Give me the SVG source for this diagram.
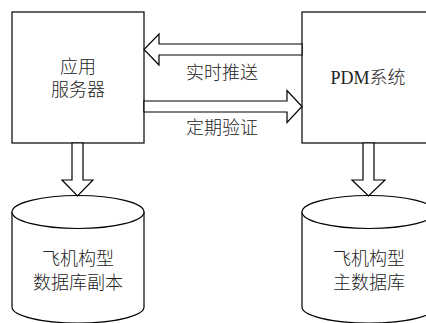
<svg xmlns="http://www.w3.org/2000/svg" width="426" height="323" viewBox="0 0 426 323">
<style>
.s{fill:#fff;stroke:#000;stroke-width:1.2}
.t{font-family:"Liberation Serif","Noto Sans CJK SC",serif;font-size:18px;font-weight:300;fill:#222;text-anchor:middle}
</style>
<rect width="426" height="323" fill="#fff"/>
<g id="app-server">
<rect class="s" x="12" y="12" width="132" height="131"/>
<text class="t" x="78" y="73">应用</text>
<text class="t" x="78" y="96">服务器</text>
</g>
<g id="pdm">
<rect class="s" x="302" y="12" width="140" height="131"/>
<text class="t" x="368" y="84">PDM系统</text>
</g>
<g id="db-copy">
<path class="s" d="M12,212 V307 A66,16 0 0 0 144,307 V212"/>
<ellipse class="s" cx="78" cy="212" rx="66" ry="16.5"/>
<text class="t" x="78" y="265">飞机构型</text>
<text class="t" x="78" y="289">数据库副本</text>
</g>
<g id="db-main">
<path class="s" d="M302,212 V307 A67,16 0 0 0 436,307 V212"/>
<ellipse class="s" cx="369" cy="212" rx="67" ry="16.5"/>
<text class="t" x="369" y="265">飞机构型</text>
<text class="t" x="369" y="289">主数据库</text>
</g>
<g id="connectors">
<polygon class="s" points="302,44 159,44 159,34 144,49.5 159,65 159,55 302,55"/>
<text class="t" x="222" y="79">实时推送</text>
<polygon class="s" points="144,101 287,101 287,90.5 302,106.5 287,122.5 287,112 144,112"/>
<text class="t" x="222" y="134">定期验证</text>
<polygon class="s" points="72,143 72,180 62,180 77.5,196 93,180 83,180 83,143"/>
<polygon class="s" points="363,143 363,180 352,180 368.5,196 385,180 374,180 374,143"/>
</g>
</svg>
